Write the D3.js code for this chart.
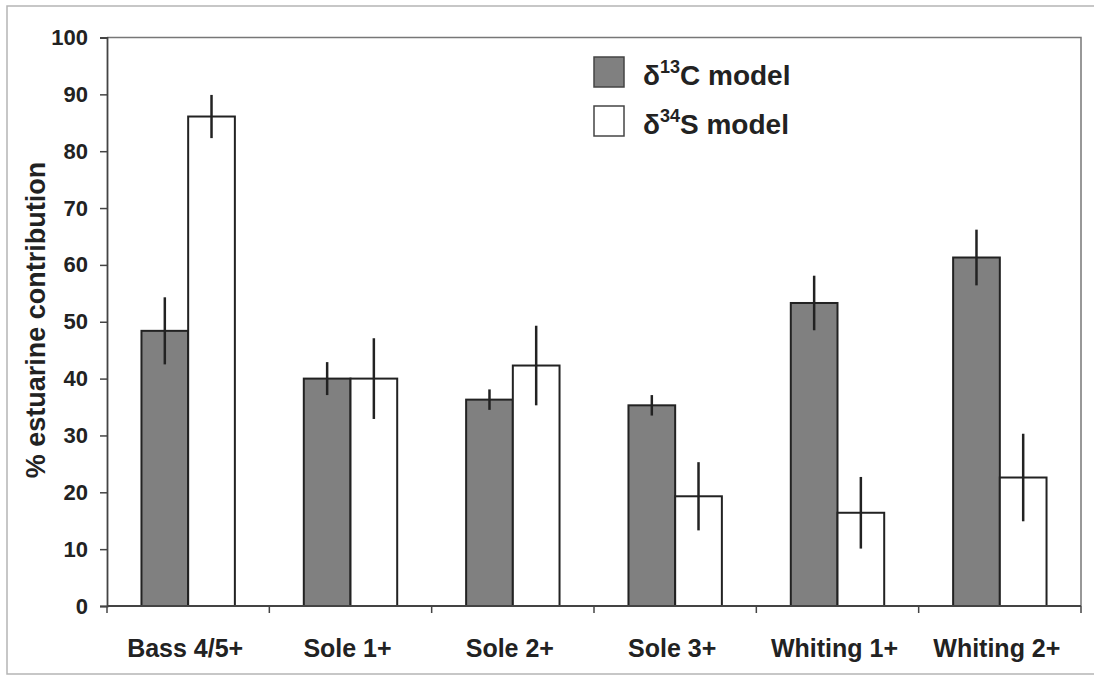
<!DOCTYPE html>
<html>
<head>
<meta charset="utf-8">
<script src="https://cdn.jsdelivr.net/npm/d3@7"></script>
<style>
  html, body { margin: 0; padding: 0; background: #fff; }
  svg { display: block; font-family: "Liberation Sans", Arial, Helvetica, sans-serif; font-weight: bold; }
</style>
</head>
<body>
<svg id="chart" width="1094" height="676"></svg>
<script>
// Fish groups along the x axis
const categories = ["Bass 4/5+", "Sole 1+", "Sole 2+", "Sole 3+", "Whiting 1+", "Whiting 2+"];
// Estuarine contribution (%) estimated by the carbon isotope model
const carbonValues = [48.4, 40.0, 36.3, 35.3, 53.3, 61.3];
const carbonErrors = [5.9, 2.9, 1.8, 1.8, 4.8, 4.9];
// Estuarine contribution (%) estimated by the sulfur isotope model
const sulfurValues = [86.1, 40.0, 42.3, 19.3, 16.4, 22.6];
const sulfurErrors = [3.8, 7.1, 7.0, 6.0, 6.3, 7.7];
// Y axis ticks
const yTicks = [0, 10, 20, 30, 40, 50, 60, 70, 80, 90, 100];
const seriesKeys = ["carbon", "sulfur"];

const svg = d3.select("#chart");
const plot = { left: 107, right: 1081, top: 37.5, bottom: 606 };

// outer frame
svg.append("rect")
  .attr("x", 7).attr("y", 6).attr("width", 1100).attr("height", 668)
  .attr("fill", "none").attr("stroke", "#b5b5b5").attr("stroke-width", 1.5);

const x = d3.scaleBand().domain(categories).range([plot.left, plot.right]).padding(0);
const xInner = d3.scaleBand().domain(seriesKeys).range([0, x.bandwidth()])
  .paddingInner(0).paddingOuter(0.738);
const y = d3.scaleLinear().domain([0, 100]).range([plot.bottom, plot.top]);

// plot box: top and right edges
svg.append("path")
  .attr("d", `M${plot.left},${plot.top}H${plot.right}V${plot.bottom}`)
  .attr("fill", "none").attr("stroke", "#777").attr("stroke-width", 1.5);

const rows = categories.map((c, i) => ({
  cat: c,
  bars: [
    { key: "carbon", v: carbonValues[i], e: carbonErrors[i] },
    { key: "sulfur", v: sulfurValues[i], e: sulfurErrors[i] }
  ]
}));

const groups = svg.append("g").selectAll("g").data(rows).join("g")
  .attr("transform", d => `translate(${x(d.cat)},0)`);

groups.selectAll("rect").data(d => d.bars).join("rect")
  .attr("x", d => xInner(d.key))
  .attr("y", d => y(d.v))
  .attr("width", xInner.bandwidth())
  .attr("height", d => y(0) - y(d.v))
  .attr("fill", d => d.key === "carbon" ? "#808080" : "#ffffff")
  .attr("stroke", "#222")
  .attr("stroke-width", 2);

groups.selectAll("line.err").data(d => d.bars).join("line")
  .attr("class", "err")
  .attr("x1", d => xInner(d.key) + xInner.bandwidth() / 2)
  .attr("x2", d => xInner(d.key) + xInner.bandwidth() / 2)
  .attr("y1", d => y(d.v + d.e))
  .attr("y2", d => y(d.v - d.e))
  .attr("stroke", "#222")
  .attr("stroke-width", 2.5);

// Y axis
const yAxis = svg.append("g")
  .attr("transform", `translate(${plot.left},0)`)
  .call(d3.axisLeft(y).tickValues(yTicks).tickSize(7).tickPadding(12));
yAxis.select(".domain").attr("stroke", "#444").attr("stroke-width", 1.8);
yAxis.selectAll(".tick line").attr("stroke", "#444").attr("stroke-width", 1.5);
yAxis.selectAll(".tick text")
  .attr("fill", "#222").style("font-size", "22px").style("font-weight", "bold")
  .style("font-family", "'Liberation Sans', Arial, sans-serif");

// X axis: ticks at category boundaries
const xAxisG = svg.append("g");
xAxisG.append("line")
  .attr("x1", plot.left).attr("x2", plot.right)
  .attr("y1", plot.bottom).attr("y2", plot.bottom)
  .attr("stroke", "#444").attr("stroke-width", 1.8);
const boundaries = categories.map(c => x(c)).concat([x(categories[categories.length - 1]) + x.bandwidth()]);
xAxisG.selectAll("line.tk").data(boundaries).join("line")
  .attr("class", "tk")
  .attr("x1", d => d).attr("x2", d => d)
  .attr("y1", plot.bottom).attr("y2", plot.bottom + 7)
  .attr("stroke", "#444").attr("stroke-width", 1.5);
xAxisG.selectAll("text").data(categories).join("text")
  .attr("x", d => x(d) + x.bandwidth() / 2 - 3)
  .attr("y", 657)
  .attr("text-anchor", "middle")
  .attr("fill", "#222")
  .style("font-size", "25px")
  .text(d => d);

// Y axis title
svg.append("text")
  .attr("transform", `translate(45,320) rotate(-90)`)
  .attr("text-anchor", "middle")
  .attr("fill", "#222")
  .style("font-size", "27px")
  .text("% estuarine contribution");

// Legend
const legend = svg.append("g");
const legendItems = [
  { key: "carbon", fill: "#808080", iso: "13", el: "C", y: 57 },
  { key: "sulfur", fill: "#ffffff", iso: "34", el: "S", y: 106 }
];
legendItems.forEach(it => {
  legend.append("rect")
    .attr("x", 594).attr("y", it.y).attr("width", 30).attr("height", 30)
    .attr("fill", it.fill).attr("stroke", "#444").attr("stroke-width", 1.5);
  const t = legend.append("text")
    .attr("x", 643).attr("y", it.y + 28)
    .attr("fill", "#222")
    .style("font-size", "28px");
  t.append("tspan").text("δ");
  t.append("tspan").attr("dy", -12).style("font-size", "18px").text(it.iso);
  t.append("tspan").attr("dy", 12).text(it.el + " model");
});
</script>
</body>
</html>
